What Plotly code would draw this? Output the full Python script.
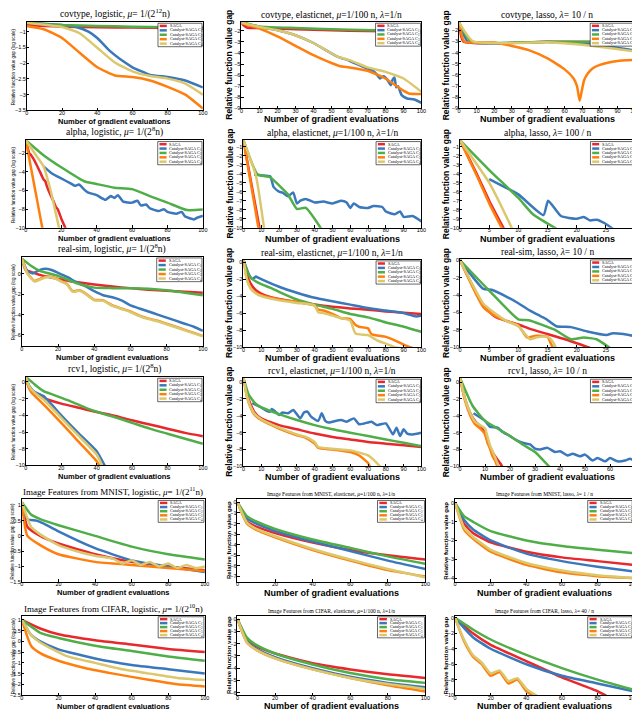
import plotly.graph_objects as go

NAMES = ["SAGA", "Catalyst-SAGA C<sub>1</sub>", "Catalyst-SAGA C<sub>2</sub>",
         "Catalyst-SAGA C<sub>3</sub>", "Catalyst-SAGA C<sub>4</sub>"]
COLORS = ["#e8282b", "#3a78bb", "#4fae48", "#ff7f0e", "#dcc86c"]
KEYS = ["SAGA", "C1", "C2", "C3", "C4"]

# ---- data: (x, y) per series, y = log10 relative gap ----
covtype_logistic = {
    "SAGA": ([0, 10, 20, 40, 60, 80, 100], [-0.79, -0.82, -0.84, -0.86, -0.87, -0.88, -0.9]),
    "C1": ([0, 10, 20, 28, 35, 40, 47, 55, 60, 70, 80, 90, 100],
           [-0.72, -0.75, -0.79, -0.85, -1.0, -1.2, -1.6, -1.95, -2.13, -2.37, -2.44, -2.55, -2.77]),
    "C2": ([0, 10, 20, 40, 60, 80, 100], [-0.72, -0.76, -0.79, -0.82, -0.84, -0.86, -0.87]),
    "C3": ([0, 10, 20, 30, 40, 50, 60, 70, 80, 90, 100],
           [-0.82, -0.93, -1.2, -1.67, -2.13, -2.39, -2.44, -2.55, -2.75, -3.0, -3.44]),
    "C4": ([0, 10, 20, 30, 40, 50, 60, 70, 80, 90, 100],
           [-0.72, -0.78, -0.85, -1.05, -1.51, -1.98, -2.26, -2.41, -2.49, -2.65, -3.0]),
}
covtype_elastic = {
    "SAGA": ([0, 3, 10, 20, 40, 60, 80, 100], [-1.35, -1.7, -1.75, -1.8, -1.9, -2.0, -2.05, -2.1]),
    "C1": ([0, 10, 20, 30, 40, 53, 60, 67, 73, 75, 77, 79, 81, 83, 84, 85, 86, 87, 89, 92, 96, 100],
           [-1.25, -1.65, -1.95, -2.4, -3.1, -4.3, -4.7, -5.2, -5.6, -5.9, -6.3, -6.1, -6.4, -6.9, -6.4, -6.2, -7.1, -7.0, -7.8, -8.1, -8.2, -8.5]),
    "C2": ([0, 10, 30, 60, 100], [-1.2, -1.6, -1.75, -1.9, -2.05]),
    "C3": ([0, 10, 20, 30, 40, 50, 55, 60, 70, 80, 90, 93, 100],
           [-1.3, -1.8, -2.5, -3.35, -4.2, -4.9, -5.2, -5.3, -5.6, -6.3, -7.4, -7.65, -7.7]),
    "C4": ([0, 10, 20, 30, 40, 53, 60, 70, 80, 90, 100],
           [-1.25, -1.65, -1.95, -2.4, -3.1, -4.3, -4.65, -5.3, -5.7, -6.3, -7.5]),
}
covtype_lasso = {
    "SAGA": ([0, 2.5, 50, 100], [-1.3, -3.0, -3.03, -3.06]),
    "C1": ([0, 5, 50, 75, 100], [-1.25, -3.0, -3.05, -3.25, -3.8]),
    "C2": ([0, 7, 50, 100], [-1.3, -3.0, -3.03, -3.05]),
    "C3": ([0, 3, 20, 30, 40, 50, 60, 65, 67, 68.5, 69.5, 71, 73, 76, 80, 90, 100],
           [-1.3, -3.0, -3.1, -3.4, -3.8, -4.5, -5.5, -6.3, -7.0, -8.3, -7.6, -6.5, -5.9, -5.4, -5.1, -4.75, -4.65]),
    "C4": ([0, 8, 50, 70, 100], [-1.3, -3.0, -3.08, -3.3, -3.9]),
}
alpha_logistic = {
    "SAGA": ([0, 2, 3, 4, 6, 8, 10, 11, 12, 14, 16, 17, 18, 20, 23],
             [-0.6, -2.0, -2.2, -2.5, -3.2, -4.0, -4.8, -5.0, -5.6, -6.5, -7.3, -7.8, -8.0, -9.0, -10.3]),
    "C1": ([10, 15, 20, 25, 28, 30, 33, 35, 40, 45, 48, 50, 52, 55, 60, 63, 65, 68, 70, 75, 78, 80, 85, 88, 90, 95, 97, 100],
           [-3.4, -4.2, -4.7, -5.2, -5.5, -5.35, -5.9, -6.2, -6.5, -7.0, -6.6, -6.8, -6.5, -7.2, -7.3, -7.1, -7.6, -7.5, -7.9, -8.2, -8.0, -8.3, -8.5, -8.3, -8.8, -9.1, -8.9, -8.7]),
    "C2": ([0, 10, 20, 33, 40, 50, 60, 70, 80, 91, 100],
           [-0.6, -2.2, -3.5, -5.0, -5.3, -5.7, -5.85, -6.6, -7.3, -8.1, -8.05]),
    "C3": ([0, 9.5], [-0.6, -10.2]),
    "C4": ([0, 5, 10, 14, 17, 19], [-0.6, -2.0, -3.4, -6.0, -8.5, -10.2]),
}
alpha_elastic = {
    "SAGA": ([0, 9.2], [-0.3, -10.2]),
    "C1": ([6, 10, 15, 17, 20, 22, 25, 28, 30, 32, 35, 40, 45, 50, 55, 58, 60, 62, 65, 70, 73, 78, 80, 85, 88, 90, 95, 100],
           [-4.1, -4.2, -4.3, -5.5, -6.0, -6.1, -6.5, -6.1, -7.3, -7.0, -6.8, -7.2, -7.1, -7.3, -7.0, -7.2, -7.8, -7.3, -7.7, -7.8, -7.6, -7.7, -8.2, -8.5, -8.2, -8.8, -8.7, -9.3]),
    "C2": ([0, 8, 15, 20, 25, 30, 35, 44], [-0.3, -4.1, -4.4, -5.3, -6.3, -7.9, -7.8, -10.2]),
    "C3": ([0, 8.6], [-0.3, -10.2]),
    "C4": ([0, 7, 11.7], [-0.3, -4.2, -10.2]),
}
alpha_lasso = {
    "SAGA": ([0, 3, 5, 7.6], [-0.3, -4.2, -7.0, -10.2]),
    "C1": ([5, 8, 10, 14.3, 15.1, 17.3, 20, 21.2, 22.3, 23.4, 24.8, 26.2],
           [-4.6, -5.6, -6.3, -8.6, -7.0, -8.7, -9.0, -8.8, -9.2, -9.1, -9.5, -10.1]),
    "C2": ([0, 5, 10, 12.5, 16.5], [-0.3, -3.6, -6.7, -8.5, -10.1]),
    "C3": ([0, 3, 5, 7.3], [-0.3, -4.4, -7.3, -10.2]),
    "C4": ([0, 5, 7, 9], [-0.3, -5.0, -7.5, -10.2]),
}
realsim_logistic = {
    "SAGA": ([0, 2, 5, 10, 20, 30, 40, 50, 60, 70, 80, 90, 100],
             [1.5, 0.4, 0.2, -0.1, -0.5, -0.8, -1.05, -1.25, -1.4, -1.55, -1.65, -1.75, -1.85]),
    "C1": ([0, 3, 6, 10, 13, 16, 20, 25, 30, 35, 40, 45, 50, 55, 60, 65, 70, 75, 80, 85, 90, 95, 100],
           [1.5, 0.3, 0.05, 0.4, 0.5, 0.4, 0.1, -0.3, -0.8, -1.2, -1.7, -2.1, -2.3, -2.6, -3.1, -3.4, -3.7, -4.0, -4.3, -4.6, -4.9, -5.2, -5.6]),
    "C2": ([0, 5, 10, 20, 30, 40, 50, 60, 70, 80, 90, 100],
           [1.5, 0.8, 0.3, -0.2, -0.9, -1.35, -1.4, -1.4, -1.45, -1.6, -1.85, -2.1]),
    "C3": ([0, 3, 7, 10, 13, 17, 20, 25, 28, 32, 35, 40, 45, 50, 55, 60, 65, 70, 75, 80, 85, 90, 95, 100],
           [1.5, 0.1, -0.7, -0.5, -0.3, -0.3, -0.55, -1.0, -1.7, -1.6, -1.9, -2.55, -2.6, -3.1, -3.4, -3.7, -4.1, -4.4, -4.6, -4.9, -5.2, -5.5, -5.8, -6.1]),
    "C4": ([0, 3, 7, 10, 13, 17, 20, 25, 28, 32, 35, 40, 45, 50, 55, 60, 65, 70, 75, 80, 85, 90, 95, 100],
           [1.5, 0.05, -0.75, -0.55, -0.35, -0.35, -0.6, -1.05, -1.75, -1.65, -1.95, -2.6, -2.65, -3.15, -3.45, -3.75, -4.15, -4.45, -4.65, -4.95, -5.25, -5.55, -5.85, -6.15]),
}
realsim_elastic = {
    "SAGA": ([0, 2, 4, 7, 10, 15, 20, 30, 40, 50, 60, 70, 80, 90, 100],
             [0.3, -1.5, -2.5, -3.3, -3.7, -4.1, -4.35, -4.7, -5.0, -5.25, -5.45, -5.6, -5.8, -5.95, -6.1]),
    "C1": ([0, 3, 5, 7, 8, 10, 20, 30, 40, 50, 60, 70, 80, 90, 97, 100],
           [0.3, -1.4, -2.0, -1.7, -1.8, -2.0, -2.9, -3.6, -4.2, -4.6, -5.0, -5.4, -5.7, -6.0, -6.4, -6.3]),
    "C2": ([0, 3, 5, 10, 15, 20, 30, 40, 50, 60, 70, 80, 90, 100],
           [0.3, -1.5, -2.0, -2.6, -3.0, -3.5, -4.4, -5.0, -5.5, -6.1, -6.5, -7.1, -7.6, -8.2]),
    "C3": ([0, 2, 4, 7, 10, 20, 30, 40, 42, 45, 50, 55, 60, 63, 65, 70, 72, 80, 85, 90, 95],
           [0.3, -2.0, -3.0, -3.6, -3.9, -4.4, -4.7, -5.1, -5.6, -5.7, -6.1, -6.6, -6.7, -7.4, -7.6, -7.8, -8.5, -8.8, -9.2, -9.7, -10.1]),
    "C4": ([0, 2, 4, 7, 10, 20, 30, 40, 42, 45, 50, 55, 60, 63, 70, 75, 80, 85, 90],
           [0.3, -2.1, -3.1, -3.7, -4.0, -4.5, -4.8, -5.1, -5.9, -6.0, -6.3, -6.6, -6.9, -8.4, -8.6, -9.2, -9.6, -10.0, -10.2]),
}
realsim_lasso = {
    "SAGA": ([0, 4, 6, 8, 10, 12, 15, 18, 22.3], [0.0, -5.2, -6.5, -7.0, -7.4, -7.9, -8.5, -9.1, -10.1]),
    "C1": ([0, 4, 5.4, 8, 10, 12, 13.4, 14.6, 16.5, 19, 21.8, 25.1, 26.2, 28, 30],
           [0.0, -3.3, -3.4, -4.2, -4.95, -5.8, -6.3, -6.7, -7.6, -7.7, -8.2, -8.6, -8.4, -8.5, -8.75]),
    "C2": ([0, 5, 10, 11.8, 16.2, 19, 21.2, 23.4, 25.7], [0.0, -3.5, -6.8, -6.9, -8.0, -9.1, -8.9, -9.1, -10.1]),
    "C3": ([0, 4, 6, 8, 10, 11.5, 13, 15, 15.5, 16], [0.0, -5.4, -6.4, -7.0, -7.5, -8.9, -8.7, -8.8, -9.5, -10.2]),
    "C4": ([0, 4, 6, 8, 10, 12, 13, 15, 16, 16.5], [0.0, -5.0, -6.1, -7.0, -7.6, -9.1, -8.9, -8.8, -9.5, -10.2]),
}
rcv1_logistic = {
    "SAGA": ([0, 2, 5, 10, 20, 30, 40, 50, 60, 70, 80, 90, 100],
             [0.6, -0.8, -1.3, -1.9, -2.6, -3.1, -3.6, -4.05, -4.6, -5.1, -5.6, -6.1, -6.5]),
    "C1": ([0, 2, 5, 10, 20, 30, 40, 45], [0.6, -0.5, -1.2, -1.7, -4.0, -6.2, -8.3, -10.2]),
    "C2": ([0, 5, 10, 15, 25, 35, 45, 50, 60, 70, 80, 90, 100],
           [0.6, -0.3, -1.1, -1.5, -2.3, -3.2, -3.9, -4.2, -4.9, -5.6, -6.2, -6.8, -7.4]),
    "C3": ([0, 1, 3, 10, 20, 30, 40, 42], [0.6, -0.3, -1.2, -2.7, -4.9, -7.2, -9.5, -10.2]),
    "C4": ([0, 2, 5, 10, 20, 30, 40, 43.5], [0.6, -0.6, -1.3, -2.1, -4.3, -6.5, -8.7, -10.2]),
}
rcv1_elastic = {
    "SAGA": ([0, 2, 4, 6, 10, 20, 30, 40, 50, 60, 70, 80, 90, 100],
             [0.5, -1.5, -2.6, -3.5, -4.3, -5.1, -5.6, -6.1, -6.5, -6.8, -7.1, -7.3, -7.5, -7.7]),
    "C1": ([5, 8, 10, 13, 15, 16, 18, 20, 22, 25, 28, 30, 32, 34, 36, 38, 42, 44, 46, 48, 50, 55, 58, 62, 65, 68, 72, 75, 80, 84, 86, 88, 90, 92, 95, 100],
           [-2.5, -2.8, -3.0, -3.4, -3.5, -3.2, -3.5, -3.9, -3.6, -3.7, -3.3, -3.8, -4.3, -3.6, -3.5, -4.1, -4.6, -3.7, -4.6, -4.8, -4.7, -4.5, -4.7, -4.3, -5.0, -4.9, -4.7, -5.1, -4.9, -6.2, -5.4, -6.4, -5.6, -6.1, -6.2, -6.0]),
    "C2": ([0, 3, 7, 10, 15, 20, 30, 40, 50, 60, 70, 80, 90, 100],
           [0.5, -1.5, -2.6, -3.0, -3.4, -3.8, -4.5, -5.1, -5.6, -6.0, -6.4, -6.8, -7.2, -7.6]),
    "C3": ([0, 2, 4, 6, 10, 20, 30, 35, 40, 42, 50, 60, 65, 70, 71.5],
           [0.5, -1.8, -3.0, -3.8, -4.5, -5.5, -6.3, -6.6, -7.3, -7.8, -8.0, -8.3, -8.7, -9.6, -10.2]),
    "C4": ([0, 2, 4, 6, 10, 20, 30, 35, 40, 42, 50, 60, 70, 75, 77.5],
           [0.5, -1.7, -2.9, -3.7, -4.4, -5.4, -6.2, -6.5, -7.1, -7.7, -7.9, -8.1, -8.7, -9.6, -10.2]),
}
rcv1_lasso = {
    "SAGA": ([0, 2, 4, 6, 8, 10, 11, 12, 14, 16, 17.2], [0.5, -2.0, -3.6, -4.6, -5.2, -6.0, -7.0, -7.7, -8.8, -9.6, -10.2]),
    "C1": ([5.4, 10, 12, 15, 17, 20, 22, 25, 28, 30, 32, 35, 38, 40, 43, 45, 48, 50, 53, 55, 58, 60, 63, 66, 68, 70],
           [-3.7, -4.6, -5.3, -5.4, -5.9, -6.4, -6.8, -7.2, -7.4, -7.9, -8.0, -7.8, -8.3, -8.2, -8.7, -8.5, -8.8, -8.6, -9.3, -9.0, -9.4, -9.0, -9.4, -9.3, -9.1, -9.4]),
    "C2": ([0, 5, 10, 15, 20, 25, 30, 33, 36.2], [0.5, -2.8, -4.6, -5.5, -6.4, -7.4, -8.3, -9.2, -10.2]),
    "C3": ([0, 2, 4, 6, 8, 10, 11, 12, 13, 14, 15.2], [0.5, -2.2, -3.9, -5.0, -5.5, -6.2, -7.2, -7.9, -8.8, -9.3, -10.2]),
    "C4": ([0, 2, 4, 6, 8, 10, 11, 12, 14, 15.7], [0.5, -2.0, -3.6, -4.7, -5.1, -5.5, -6.5, -7.5, -8.9, -10.2]),
}
mnist_logistic = {
    "SAGA": ([0, 3, 10, 20, 40, 60, 80, 100], [1.1, 0.3, 0.0, -0.25, -0.6, -0.85, -1.0, -1.12]),
    "C1": ([0, 3, 8, 12, 20, 40, 60, 80, 100], [1.1, 0.55, 0.5, 0.4, 0.15, -0.4, -0.8, -1.0, -1.18]),
    "C2": ([0, 5, 10, 20, 40, 60, 80, 100], [1.1, 0.7, 0.55, 0.35, 0.0, -0.35, -0.6, -0.77]),
    "C3": ([0, 3, 10, 20, 40, 60, 80, 100], [1.1, 0.0, -0.3, -0.6, -0.85, -0.95, -1.05, -1.15]),
    "C4": ([0, 5, 10, 20, 30, 40, 50, 55, 60, 65, 70, 75, 80, 85, 90, 95, 100],
           [1.1, 0.3, 0.05, -0.3, -0.5, -0.65, -0.75, -0.9, -0.8, -0.95, -0.85, -1.0, -0.9, -1.05, -0.95, -1.05, -1.0]),
}
mnist_elastic = {
    "SAGA": ([0, 5, 10, 20, 40, 60, 80, 100], [0.0, -1.8, -2.3, -2.9, -3.8, -4.5, -5.0, -5.4]),
    "C1": ([0, 5, 10, 20, 40, 60, 80, 100], [0.0, -1.5, -2.0, -2.7, -3.7, -4.6, -5.5, -6.3]),
    "C2": ([0, 5, 10, 20, 40, 60, 80, 100], [0.0, -1.3, -1.8, -2.5, -3.5, -4.3, -5.1, -5.8]),
    "C3": ([0, 5, 10, 20, 40, 60, 80, 100], [0.0, -2.0, -2.6, -3.3, -4.5, -5.5, -6.4, -7.0]),
    "C4": ([0, 5, 10, 20, 40, 60, 80, 100], [0.0, -1.9, -2.5, -3.2, -4.4, -5.4, -6.3, -7.1]),
}
mnist_lasso = {
    "SAGA": ([0, 5, 10, 20, 40, 60, 80, 100], [0.0, -1.1, -1.6, -2.1, -2.6, -2.9, -3.1, -3.3]),
    "C1": ([0, 5, 10, 20, 40, 60, 80, 100], [0.0, -0.9, -1.4, -2.0, -2.7, -3.1, -3.4, -3.65]),
    "C2": ([0, 5, 10, 20, 40, 60, 80, 100], [0.0, -0.7, -1.0, -1.5, -2.0, -2.3, -2.5, -2.67]),
    "C3": ([0, 5, 10, 20, 40, 60, 80, 100], [0.0, -1.4, -1.9, -2.6, -3.3, -3.7, -3.9, -4.0]),
    "C4": ([0, 5, 10, 20, 40, 60, 80, 100], [0.0, -1.3, -1.8, -2.5, -3.2, -3.6, -3.85, -4.0]),
}
cifar_logistic = {
    "SAGA": ([0, 10, 20, 40, 60, 80, 100], [1.0, 0.6, 0.33, 0.05, -0.15, -0.35, -0.5]),
    "C1": ([0, 5, 10, 20, 40, 60, 80, 100], [1.0, 0.3, 0.0, -0.37, -0.8, -1.1, -1.3, -1.5]),
    "C2": ([0, 10, 20, 40, 60, 80, 100], [1.0, 0.4, 0.16, -0.2, -0.45, -0.7, -0.9]),
    "C3": ([0, 5, 10, 20, 35, 50, 70, 85, 100], [1.0, -0.2, -0.55, -0.9, -1.25, -1.5, -1.8, -2.0, -2.1]),
    "C4": ([0, 5, 10, 25, 40, 55, 70, 85, 100], [1.0, 0.3, -0.05, -0.7, -1.0, -1.3, -1.5, -1.7, -1.8]),
}
cifar_elastic = {
    "SAGA": ([0, 5, 10, 20, 40, 60, 80, 100], [0.0, -1.6, -2.2, -2.8, -3.6, -4.1, -4.5, -4.8]),
    "C1": ([0, 5, 10, 20, 40, 60, 80, 100], [0.0, -1.8, -2.4, -3.1, -4.0, -4.7, -5.2, -5.55]),
    "C2": ([0, 5, 10, 20, 40, 60, 80, 100], [0.0, -1.5, -2.1, -2.8, -3.7, -4.4, -4.9, -5.2]),
    "C3": ([0, 5, 10, 20, 40, 60, 80, 100], [0.0, -1.9, -2.5, -3.2, -4.1, -4.8, -5.4, -5.9]),
    "C4": ([0, 5, 10, 20, 40, 60, 80, 100], [0.0, -1.9, -2.5, -3.2, -4.1, -4.8, -5.3, -5.7]),
}
cifar_lasso = {
    "SAGA": ([0, 10, 20, 40, 60, 80, 85], [0.0, -2.0, -3.5, -5.6, -7.7, -9.5, -10.1]),
    "C1": ([0, 10, 20, 40, 60, 80, 100], [0.0, -2.5, -4.0, -6.0, -7.5, -8.5, -9.5]),
    "C2": ([0, 10, 20, 40, 60, 80, 100], [0.0, -1.5, -2.8, -4.8, -6.5, -8.0, -9.3]),
    "C3": ([0, 5, 10, 15, 20, 25, 30, 35, 40, 44], [0.0, -3.0, -5.0, -6.0, -7.5, -7.0, -8.5, -8.0, -9.5, -10.1]),
    "C4": ([0, 5, 10, 15, 20, 25, 30, 35, 40, 46], [0.0, -2.8, -4.8, -5.8, -7.2, -6.8, -8.2, -7.8, -9.2, -10.1]),
}

MU = "<i>μ</i>"
LAM = "<i>λ</i>"
# title, data, x range, x ticks, y range, y ticks, box (left, right, top, bottom px), col
panels = [
    ("covtype, logistic, " + MU + "= 1/(2<sup>12</sup>n)", covtype_logistic, [0, 100], list(range(0, 101, 20)),
     [-3.5, -0.69], [-1, -1.5, -2, -2.5, -3, -3.5], (17, 195, 13, 102), 0),
    ("covtype, elasticnet, " + MU + "=1/100 n, " + LAM + "=1/n", covtype_elastic, [0, 100], list(range(0, 101, 10)),
     [-9, -1.2], list(range(-2, -10, -1)), (234, 416, 13, 100), 1),
    ("covtype, lasso, " + LAM + "= 10 / n", covtype_lasso, [0, 100], list(range(0, 101, 10)),
     [-9, -1.25], list(range(-2, -10, -1)), (454, 632, 13, 100), 2),
    ("alpha, logistic, " + MU + "= 1/(2<sup>8</sup>n)", alpha_logistic, [0, 100], list(range(0, 101, 20)),
     [-10, -0.6], [-2, -4, -6, -8, -10], (16, 195, 132, 220), 0),
    ("alpha, elasticnet, " + MU + "=1/100 n, " + LAM + "=1/n", alpha_elastic, [0, 100], list(range(0, 101, 10)),
     [-10, -0.3], list(range(-1, -11, -1)), (236, 416, 132, 220), 1),
    ("alpha, lasso, " + LAM + "= 100 / n", alpha_lasso, [0, 30], list(range(0, 31, 5)),
     [-10, -0.3], list(range(-1, -11, -1)), (455, 632, 132, 220), 2),
    ("real-sim, logistic, " + MU + "= 1/(2<sup>8</sup>n)", realsim_logistic, [0, 100], list(range(0, 101, 20)),
     [-7.1, 1.7], [0, -2, -4, -6], (12, 195, 249, 339), 0),
    ("real-sim, elasticnet, " + MU + "=1/100 n, " + LAM + "=1/n", realsim_elastic, [0, 100], list(range(0, 101, 10)),
     [-10, 0.3], [0, -2, -4, -6, -8, -10], (236, 416, 252, 340), 1),
    ("real-sim, lasso, " + LAM + "= 10 / n", realsim_lasso, [0, 30], list(range(0, 31, 5)),
     [-10, 0.2], [0, -2, -4, -6, -8, -10], (455, 632, 251, 340), 2),
    ("rcv1, logistic, " + MU + "= 1/(2<sup>8</sup>n)", rcv1_logistic, [0, 100], list(range(0, 101, 20)),
     [-10, 0.6], [0, -2, -4, -6, -8, -10], (16, 195, 370, 459), 0),
    ("rcv1, elasticnet, " + MU + "=1/100 n, " + LAM + "=1/n", rcv1_elastic, [0, 100], list(range(0, 101, 10)),
     [-10, 0.5], [0, -2, -4, -6, -8, -10], (236, 416, 371, 460), 1),
    ("rcv1, lasso, " + LAM + "= 10 / n", rcv1_lasso, [0, 70], list(range(0, 71, 10)),
     [-10, 0.5], [0, -2, -4, -6, -8, -10], (455, 632, 371, 460), 2),
    ("Image Features from MNIST, logistic, " + MU + "= 1/(2<sup>11</sup>n)", mnist_logistic, [0, 100], list(range(0, 101, 20)),
     [-1.5, 1.2], [1, 0.5, 0, -0.5, -1, -1.5], (12, 197, 493, 576), 0),
    ("Image Features from MNIST, elasticnet, " + MU + "=1/100 n, " + LAM + "=1/n", mnist_elastic, [0, 100], list(range(0, 101, 20)),
     [-7.5, 0.3], [0, -1, -2, -3, -4, -5, -6, -7], (230, 420, 493, 576), 1),
    ("Image Features from MNIST, lasso, " + LAM + "= 1 / n", mnist_lasso, [0, 100], list(range(0, 101, 20)),
     [-4.2, 0.2], [0, -1, -2, -3, -4], (450, 630, 493, 576), 2),
    ("Image Features from CIFAR, logistic, " + MU + "= 1/(2<sup>10</sup>n)", cifar_logistic, [0, 100], list(range(0, 101, 20)),
     [-2.5, 1.2], [1, 0.5, 0, -0.5, -1, -1.5, -2, -2.5], (12, 197, 610, 690), 0),
    ("Image Features from CIFAR, elasticnet, " + MU + "=1/100 n, " + LAM + "=1/n", cifar_elastic, [0, 100], list(range(0, 101, 20)),
     [-6.2, 0.3], [0, -1, -2, -3, -4, -5, -6], (230, 420, 610, 690), 1),
    ("Image Features from CIFAR, lasso, " + LAM + "= 40 / n", cifar_lasso, [0, 100], list(range(0, 101, 20)),
     [-10, 0.3], [0, -2, -4, -6, -8, -10], (450, 630, 610, 690), 2),
]

W, H = 640, 710
YLAB_X = [3, 222, 441]
fig = go.Figure()
layout = {}
shapes = []
annotations = []

for i, (title, data, xr, xt, yr, yt, box, col) in enumerate(panels):
    k = i + 1
    xa = "x" if k == 1 else f"x{k}"
    ya = "y" if k == 1 else f"y{k}"
    l, r, t, b = box
    small = i >= 12 and col > 0
    for key, color in zip(KEYS, COLORS):
        xs, ys = data[key]
        fig.add_trace(go.Scatter(x=xs, y=ys, mode="lines", xaxis=xa, yaxis=ya, showlegend=False,
                                 line=dict(color=color, width=2.5, shape="spline", smoothing=0.5)))
    ax_common = dict(showline=True, mirror=True, linecolor="black", linewidth=0.8, ticks="inside",
                     ticklen=2.5, tickcolor="black", showgrid=False, zeroline=False,
                     tickfont=dict(size=5.5, family="Liberation Sans", color="black"))
    layout["xaxis" if k == 1 else f"xaxis{k}"] = dict(
        ax_common, domain=[l / W, r / W], range=xr, tickvals=xt, anchor=ya, ticklabelstandoff=-3)
    layout["yaxis" if k == 1 else f"yaxis{k}"] = dict(
        ax_common, domain=[1 - b / H, 1 - t / H], range=yr, tickvals=yt, anchor=xa, ticklabelstandoff=-1)
    # panel title
    annotations.append(dict(text=title, xref="paper", yref="paper", x=(l + r) / 2 / W, y=1 - t / H,
                            xanchor="center", yanchor="bottom", showarrow=False,
                            font=dict(size=5.5 if small else (9 if i >= 12 else 9.5),
                                      family="Liberation Serif", color="black")))
    # axis titles
    annotations.append(dict(text="<b>Number of gradient evaluations</b>", xref="paper", yref="paper",
                            x=(l + r) / 2 / W, y=1 - (b + 11) / H, xanchor="center", yanchor="middle",
                            showarrow=False,
                            font=dict(size=7.5 if col == 0 else 9, family="Liberation Sans", color="black")))
    ylab = "Relative function value gap (log scale)" if col == 0 else "<b>Relative function value gap</b>"
    annotations.append(dict(text=ylab, xref="paper", yref="paper", x=YLAB_X[col] / W, y=1 - (t + b) / 2 / H,
                            xanchor="center", yanchor="middle", textangle=-90, showarrow=False,
                            font=dict(size=4.5 if col == 0 else (6 if small else 8.5),
                                      family="Liberation Sans", color="black")))
    # legend box
    xd, yd = f"{xa} domain", f"{ya} domain"
    lx0, lx1, ly1 = 0.745, 0.995, 0.985
    step = 0.05
    shapes.append(dict(type="rect", xref=xd, yref=yd, x0=lx0, x1=lx1, y0=ly1 - 5 * step - 0.015, y1=ly1,
                       line=dict(color="black", width=0.6), fillcolor="white", layer="above"))
    for j, (name, color) in enumerate(zip(NAMES, COLORS)):
        yy = ly1 - 0.03 - j * step
        shapes.append(dict(type="line", xref=xd, yref=yd, x0=lx0 + 0.01, x1=lx0 + 0.05, y0=yy, y1=yy,
                           line=dict(color=color, width=2.5), layer="above"))
        annotations.append(dict(text=name, xref=xd, yref=yd, x=lx0 + 0.055, y=yy, xanchor="left",
                                yanchor="middle", showarrow=False,
                                font=dict(size=4.3, family="Liberation Serif", color="black")))

fig.update_layout(**layout)
fig.update_layout(width=W, height=H, margin=dict(l=0, r=0, t=0, b=0), plot_bgcolor="white",
                  paper_bgcolor="white", showlegend=False, shapes=shapes, annotations=annotations)
fig.write_html("out.html")
